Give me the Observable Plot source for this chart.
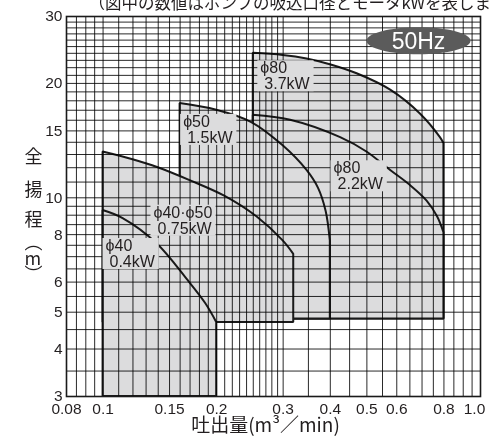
<!DOCTYPE html>
<html><head><meta charset="utf-8">
<script src="https://cdn.jsdelivr.net/npm/d3@7"></script>
<script src="https://cdn.jsdelivr.net/npm/@observablehq/plot@0.6"></script>
<style>
body{margin:0;background:#fff;}
#chart svg{display:block;overflow:hidden;}
</style></head><body><div id="chart"></div>
<script>
// ---------- data ----------
const xTicks = [0.08, 0.1, 0.15, 0.2, 0.3, 0.4, 0.5, 0.6, 0.8, 1.0];
const xTickLabels = ["0.08", "0.1", "0.15", "0.2", "0.3", "0.4", "0.5", "0.6", "0.8", "1.0"];
const yTicks = [3, 4, 5, 6, 8, 10, 15, 20, 30];
const yTickLabels = ["3", "4", "5", "6", "8", "10", "15", "20", "30"];

// pump performance regions (Q in m3/min, H in m)
const q37 = [0.25, 0.30, 0.347, 0.40, 0.471, 0.578, 0.694, 0.783, 0.80];
const h37 = [24.0, 23.7, 23.2, 22.4, 21.2, 19.2, 16.6, 14.4, 13.9];
const q22 = [0.25, 0.314, 0.426, 0.50, 0.578, 0.65, 0.722, 0.77, 0.80];
const h22 = [16.5, 16.0, 14.4, 13.2, 11.8, 10.8, 9.8, 8.9, 8.1];
const q15 = [0.16, 0.20, 0.247, 0.30, 0.347, 0.372, 0.390, 0.400];
const h15 = [17.7, 17.0, 15.8, 13.7, 11.8, 10.6, 9.2, 7.7];
const q075 = [0.10, 0.12, 0.14, 0.17, 0.21, 0.256, 0.30, 0.32];
const h075 = [13.2, 12.6, 12.0, 11.1, 10.1, 8.9, 7.7, 7.1];
const q04 = [0.10, 0.113, 0.139, 0.167, 0.187, 0.20];
const h04 = [9.26, 8.82, 7.57, 6.1, 5.27, 4.7];
const regionBase = [4.8, 4.8, 4.8, 4.7, 3];

// region labels
const labelNames = ["ϕ80", "ϕ80", "ϕ50", "ϕ40·ϕ50", "ϕ40"];
const labelPowers = ["3.7kW", "2.2kW", "1.5kW", "0.75kW", "0.4kW"];
const labelQ = [0.261, 0.408, 0.163, 0.136, 0.1015];
const labelH = [20.9, 11.4, 15.1, 8.71, 7.12];

const badgeText = ["50Hz"];
const badgeQ = [0.685];
const badgeH = [25.9];

const titleText = "（図中の数値はポンプの吸込口径とモータkWを表します）";
const xTitle = "吐出量(m³／min)";
const yTitleChars = ["全", "揚", "程", "︵", "m", "︶"];

// ---------- build ----------
const pts = (qs, hs) => qs.map((q, i) => ({q, h: hs[i]}));
const regions = [pts(q37, h37), pts(q22, h22), pts(q15, h15), pts(q075, h075), pts(q04, h04)];
const labels = labelNames.map((n, i) => ({name: n, power: labelPowers[i], q: labelQ[i], h: labelH[i]}));
const badge = badgeText.map((t, i) => ({t, q: badgeQ[i], h: badgeH[i]}));

const xGrid = [...d3.range(85, 100, 5).map(v => v / 1000), ...d3.range(10, 30, 1).map(v => v / 100), ...d3.range(30, 100, 5).map(v => v / 100)];
const yGrid = [...d3.range(35, 100, 5).map(v => v / 10), ...d3.range(10, 30, 1)];

const FILL = "#dcdcdd";
const INK = "#231f20";
const LATIN = '"Liberation Sans", Arial, "Noto Sans CJK JP", sans-serif';
const CJK = '"Noto Sans CJK JP", sans-serif';

const ellipseSymbol = {
  draw(ctx) {
    const rx = 52, ry = 13.5, k = 0.5523;
    ctx.moveTo(rx, 0);
    ctx.bezierCurveTo(rx, ry * k, rx * k, ry, 0, ry);
    ctx.bezierCurveTo(-rx * k, ry, -rx, ry * k, -rx, 0);
    ctx.bezierCurveTo(-rx, -ry * k, -rx * k, -ry, 0, -ry);
    ctx.bezierCurveTo(rx * k, -ry, rx, -ry * k, rx, 0);
    ctx.closePath();
  }
};

const yTitleDy = [-49, -16, 14, 37, 53, 69];

const marks = [];
regions.forEach((r, i) => {
  marks.push(Plot.areaY(r, {x: "q", y1: regionBase[i], y2: "h", fill: FILL, stroke: "#1a1a1a", strokeWidth: 2, curve: "catmull-rom", strokeLinejoin: "miter"}));
});
marks.push(Plot.ruleX(xGrid, {stroke: "#2a2a2a", strokeWidth: 1, ariaDescription: "grid"}));
marks.push(Plot.ruleY(yGrid, {stroke: "#2a2a2a", strokeWidth: 1, ariaDescription: "grid"}));
marks.push(Plot.dot(badge, {x: "q", y: "h", symbol: ellipseSymbol, fill: "#5b5b5b", stroke: "none", r: 10}));
marks.push(Plot.text(badge, {x: "q", y: "h", text: "t", fill: "white", fontSize: 23, fontFamily: LATIN, dy: 1}));
marks.push(Plot.text(labels, {x: "q", y: "h", text: "name", textAnchor: "start", dy: -8, fontSize: 16, fill: INK, fontFamily: LATIN, ariaDescription: "pumplabel"}));
marks.push(Plot.text(labels, {x: "q", y: "h", text: "power", textAnchor: "start", dx: 4, dy: 8, fontSize: 16, fill: INK, fontFamily: LATIN, ariaDescription: "pumplabel"}));
marks.push(Plot.frame({stroke: "#1a1a1a", strokeWidth: 1.6}));
marks.push(Plot.text([titleText], {frameAnchor: "top-left", text: d => d, textAnchor: "start", dx: 22, dy: -19, fontSize: 16.5, fontFamily: CJK, fill: INK}));
marks.push(Plot.text([xTitle], {frameAnchor: "bottom", text: d => d, dx: -8, dy: 35, fontSize: 19, fontFamily: CJK, fill: INK}));
yTitleChars.forEach((c, i) => {
  marks.push(Plot.text([c], {frameAnchor: "left", text: d => d, dx: -42, dy: yTitleDy[i], fontSize: 18, fontFamily: CJK, fill: INK}));
});

const xLab = new Map(xTicks.map((t, i) => [t, xTickLabels[i]]));
const yLab = new Map(yTicks.map((t, i) => [t, yTickLabels[i]]));

const svg = Plot.plot({
  width: 490,
  height: 440,
  marginLeft: 66,
  marginRight: 10,
  marginTop: 16,
  marginBottom: 44,
  style: {fontFamily: LATIN, fontSize: "15.5px", color: INK, background: "white"},
  x: {type: "log", domain: [0.08, 1.0], ticks: xTicks, tickFormat: d => xLab.get(d) ?? "", tickSize: 0, tickPadding: 6, label: null},
  y: {type: "log", domain: [3, 30], ticks: yTicks, tickFormat: d => yLab.get(d) ?? "", tickSize: 0, tickPadding: 4, label: null},
  marks
});
document.getElementById("chart").append(svg);

// grid drawn with multiply so outlines stay black and fills stay visible under it
svg.querySelectorAll('g[aria-description="grid"]').forEach(g => g.style.mixBlendMode = "multiply");

// keep the last x tick label inside the picture, as in the reference
svg.querySelectorAll("text").forEach(t => { if (t.textContent === "1.0") t.setAttribute("dx", "-6"); });

// label background boxes (hide grid behind text)
const labelGroups = svg.querySelectorAll('g[aria-description="pumplabel"]');
if (labelGroups.length === 2) {
  const base = svg.getBoundingClientRect();
  const a = labelGroups[0].querySelectorAll("text");
  const b = labelGroups[1].querySelectorAll("text");
  const ns = "http://www.w3.org/2000/svg";
  const g = document.createElementNS(ns, "g");
  for (let i = 0; i < a.length; i++) {
    const r1 = a[i].getBoundingClientRect(), r2 = b[i].getBoundingClientRect();
    const x0 = Math.min(r1.left, r2.left) - base.left - 3;
    const x1 = Math.max(r1.right, r2.right) - base.left + 3;
    const y0 = Math.min(r1.top, r2.top) - base.top + 1;
    const y1 = Math.max(r1.bottom, r2.bottom) - base.top - 1;
    const rect = document.createElementNS(ns, "rect");
    rect.setAttribute("x", x0); rect.setAttribute("y", y0);
    rect.setAttribute("width", x1 - x0); rect.setAttribute("height", y1 - y0);
    rect.setAttribute("fill", FILL);
    g.append(rect);
  }
  labelGroups[0].parentNode.insertBefore(g, labelGroups[0]);
}
</script>
</body></html>
